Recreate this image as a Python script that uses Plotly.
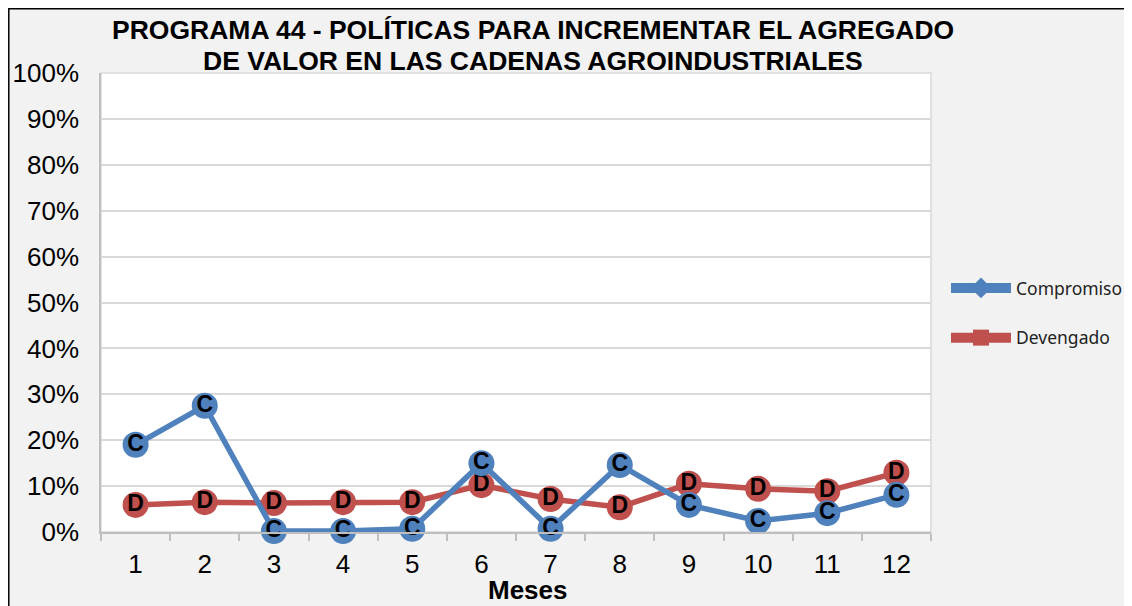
import plotly.graph_objects as go

meses = list(range(1, 13))
compromiso = [0.190, 0.275, 0.002, 0.002, 0.007, 0.150, 0.007, 0.146, 0.059, 0.024, 0.041, 0.081]
devengado = [0.059, 0.065, 0.063, 0.065, 0.065, 0.102, 0.072, 0.054, 0.105, 0.094, 0.089, 0.129]
y_ticks = [i / 10 for i in range(11)]
title_lines = ["PROGRAMA 44 - POLÍTICAS PARA INCREMENTAR EL AGREGADO",
               "DE VALOR EN LAS CADENAS AGROINDUSTRIALES"]
x_title = "Meses"

BLUE = "#4f81bd"
RED = "#c0504d"
FONT = "Liberation Sans, Arial"

# page body has an 8px margin; sizes chosen so the figure fits in the window
W, H = 1124, 598
L, T = 93, 65
pw, ph = 830, 459
R, B = W - L - pw, H - T - ph


def px(xfig):
    return (xfig - L) / pw


def py(yfig):
    return (T + ph - yfig) / ph


fig = go.Figure()

for vals, col, lab in [(devengado, RED, "D"), (compromiso, BLUE, "C")]:
    fig.add_trace(go.Scatter(
        x=meses, y=vals, mode="lines+markers+text", text=[lab] * len(meses),
        textposition="middle center",
        textfont=dict(family=FONT, size=23, color="black", weight="bold"),
        line=dict(color=col, width=5.5), marker=dict(color=col, size=26, symbol="circle"),
        showlegend=False, cliponaxis=False, hoverinfo="x+y"))

fig.add_trace(go.Scatter(x=[None], y=[None], mode="lines+markers", name="Compromiso",
                         line=dict(color=BLUE, width=10), marker=dict(color=BLUE, size=20, symbol="diamond"),
                         legendgroup="a"))
fig.add_trace(go.Scatter(x=[None], y=[None], mode="lines+markers", name="Devengado",
                         line=dict(color=RED, width=10), marker=dict(color=RED, size=18, symbol="square"),
                         legendgroup="b"))

# figure border
fig.add_shape(type="rect", xref="paper", yref="paper",
              x0=px(0.8), x1=px(W - 1.2), y0=py(H + 2), y1=py(0.8),
              line=dict(color="black", width=1.5), fillcolor="rgba(0,0,0,0)", layer="below")
# plot area border
fig.add_shape(type="rect", xref="paper", yref="paper", x0=0, x1=1, y0=0, y1=1,
              line=dict(color="#d9d9d9", width=1.5), fillcolor="rgba(0,0,0,0)", layer="below")

for line, yfig in zip(title_lines, [22, 53]):
    fig.add_annotation(text=line, xref="paper", yref="paper", x=px(525), y=py(yfig),
                       xanchor="center", yanchor="middle", showarrow=False,
                       font=dict(family=FONT, size=26.5, color="black", weight="bold"))

fig.add_annotation(text=x_title, xref="paper", yref="paper", x=px(520), y=py(582),
                   xanchor="center", yanchor="middle", showarrow=False,
                   font=dict(family=FONT, size=26, color="black", weight="bold"))

fig.update_layout(
    width=W, height=H,
    margin=dict(l=L, r=R, t=T, b=B, autoexpand=False),
    paper_bgcolor="#f2f2f2", plot_bgcolor="white",
    legend=dict(x=px(938), y=py(262), xanchor="left", yanchor="top",
                font=dict(family="Noto Sans, Open Sans", size=17.5, color="#222"),
                bgcolor="rgba(0,0,0,0)", tracegroupgap=24, itemwidth=60),
    xaxis=dict(range=[0.5, 12.5], tickvals=meses, ticktext=[str(m) for m in meses],
               ticks="", showgrid=False, showline=True, linecolor="#bfbfbf", linewidth=1.5,
               tickfont=dict(family=FONT, size=26, color="black"), ticklabelstandoff=8,
               minor=dict(tickvals=[m + 0.5 for m in range(0, 13)], ticks="outside", ticklen=7,
                          tickcolor="#bfbfbf", tickwidth=1.5, showgrid=False),
               zeroline=False),
    yaxis=dict(range=[0, 1], tickvals=y_ticks, tickformat=".0%",
               showgrid=True, gridcolor="#d9d9d9", gridwidth=1.5,
               showline=True, linecolor="#bfbfbf", linewidth=1.5, ticks="",
               tickfont=dict(family=FONT, size=26, color="black"),
               zeroline=False, ticklabelstandoff=15),
)

fig.write_html("out.html")
